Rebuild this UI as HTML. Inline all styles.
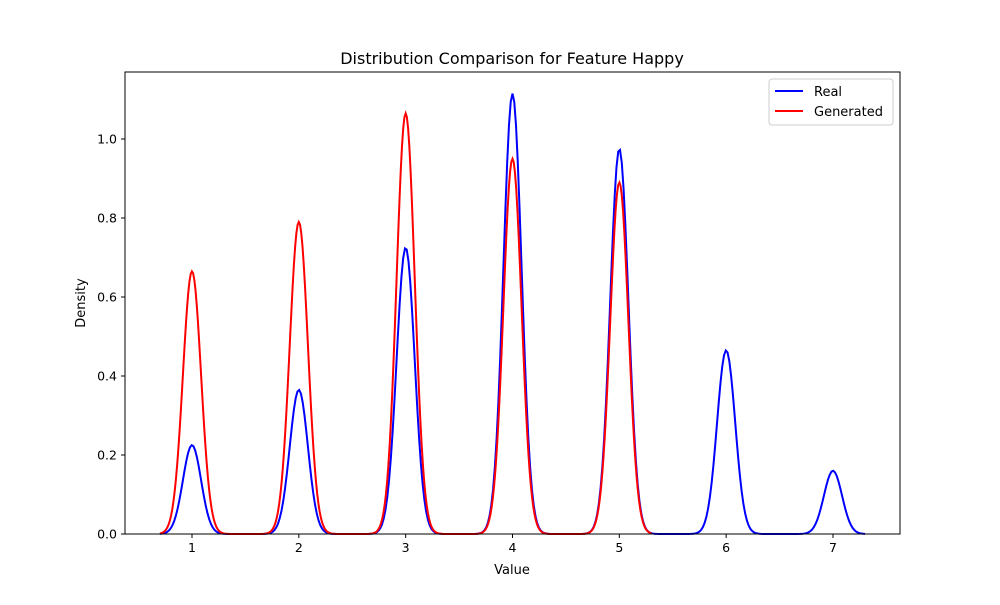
<!DOCTYPE html>
<html><head><meta charset="utf-8"><style>
body{margin:0;background:#fff;font-family:"Liberation Sans","DejaVu Sans",sans-serif;}
svg text{font-family:"DejaVu Sans","Liberation Sans",sans-serif;}
</style></head><body>
<svg id="chart" width="1000" height="600">
<rect x="0" y="0" width="1000" height="600" fill="#fff"/>
<text x="512" y="64" text-anchor="middle" font-size="16">Distribution Comparison for Feature Happy</text>
<g id="plot"></g>
<rect x="125" y="72" width="775" height="462" fill="none" stroke="#000" stroke-width="1"/>
<text x="512" y="574" text-anchor="middle" font-size="13">Value</text>
<text x="85" y="303" text-anchor="middle" font-size="13" transform="rotate(-90 85 303)">Density</text>
<g>
<rect x="769" y="79" width="124" height="46" fill="#fff" stroke="#ccc" rx="3"/>
<line x1="775" y1="91" x2="803" y2="91" stroke="#0000ff" stroke-width="2"/>
<text x="814" y="96" font-size="13">Real</text>
<line x1="775" y1="111" x2="803" y2="111" stroke="#ff0000" stroke-width="2"/>
<text x="814" y="116" font-size="13">Generated</text>
</g>
</svg>
<script>
const centers = [1,2,3,4,5,6,7];
const realPeaks = [0.225,0.365,0.725,1.115,0.975,0.465,0.16];
const genPeaks = [0.665,0.79,1.065,0.95,0.89,0,0];
const xTicks = [1,2,3,4,5,6,7];
const yTicks = [0.0,0.2,0.4,0.6,0.8,1.0];
const realRange = [0.7,7.3];
const genRange = [0.7,5.3];
const sigma = 0.085;

const xs = v => 192 + (v-1)*106.83;
const ys = v => 534 - v*395;
const NS = "http://www.w3.org/2000/svg";
const g = document.getElementById('plot');

xTicks.forEach(t=>{
  const l=document.createElementNS(NS,'line');
  l.setAttribute('x1',xs(t));l.setAttribute('x2',xs(t));l.setAttribute('y1',534);l.setAttribute('y2',538);l.setAttribute('stroke','#000');
  
  
  g.appendChild(l);
  const tx=document.createElementNS(NS,'text');
  tx.setAttribute('x',xs(t));tx.setAttribute('y',552);tx.setAttribute('text-anchor','middle');tx.setAttribute('font-size','12.5');
  tx.textContent=t;
  
  
  g.appendChild(tx);
});
yTicks.forEach(t=>{
  const l=document.createElementNS(NS,'line');
  l.setAttribute('x1',121);l.setAttribute('x2',125);l.setAttribute('y1',ys(t));l.setAttribute('y2',ys(t));l.setAttribute('stroke','#000');
  
  
  g.appendChild(l);
  const tx=document.createElementNS(NS,'text');
  tx.setAttribute('x',117);tx.setAttribute('y',ys(t)+4.5);tx.setAttribute('text-anchor','end');tx.setAttribute('font-size','12.5');
  tx.textContent=t.toFixed(1);
  
  
  g.appendChild(tx);
});

function curve(peaks, range, color, name){
  let d='';
  const n=400;
  for(let i=0;i<=n;i++){
    const x=range[0]+(range[1]-range[0])*i/n;
    let y=0;
    centers.forEach((c,k)=>{y+=peaks[k]*Math.exp(-((x-c)**2)/(2*sigma*sigma));});
    d+=(i?'L':'M')+xs(x).toFixed(2)+','+ys(y).toFixed(2);
  }
  const p=document.createElementNS(NS,'path');
  p.setAttribute('d',d);p.setAttribute('fill','none');p.setAttribute('stroke',color);p.setAttribute('stroke-width','2');
  
  
  g.appendChild(p);
}
curve(realPeaks, realRange, '#0000ff', 'real-density-line');
curve(genPeaks, genRange, '#ff0000', 'generated-density-line');
</script>
</body></html>
